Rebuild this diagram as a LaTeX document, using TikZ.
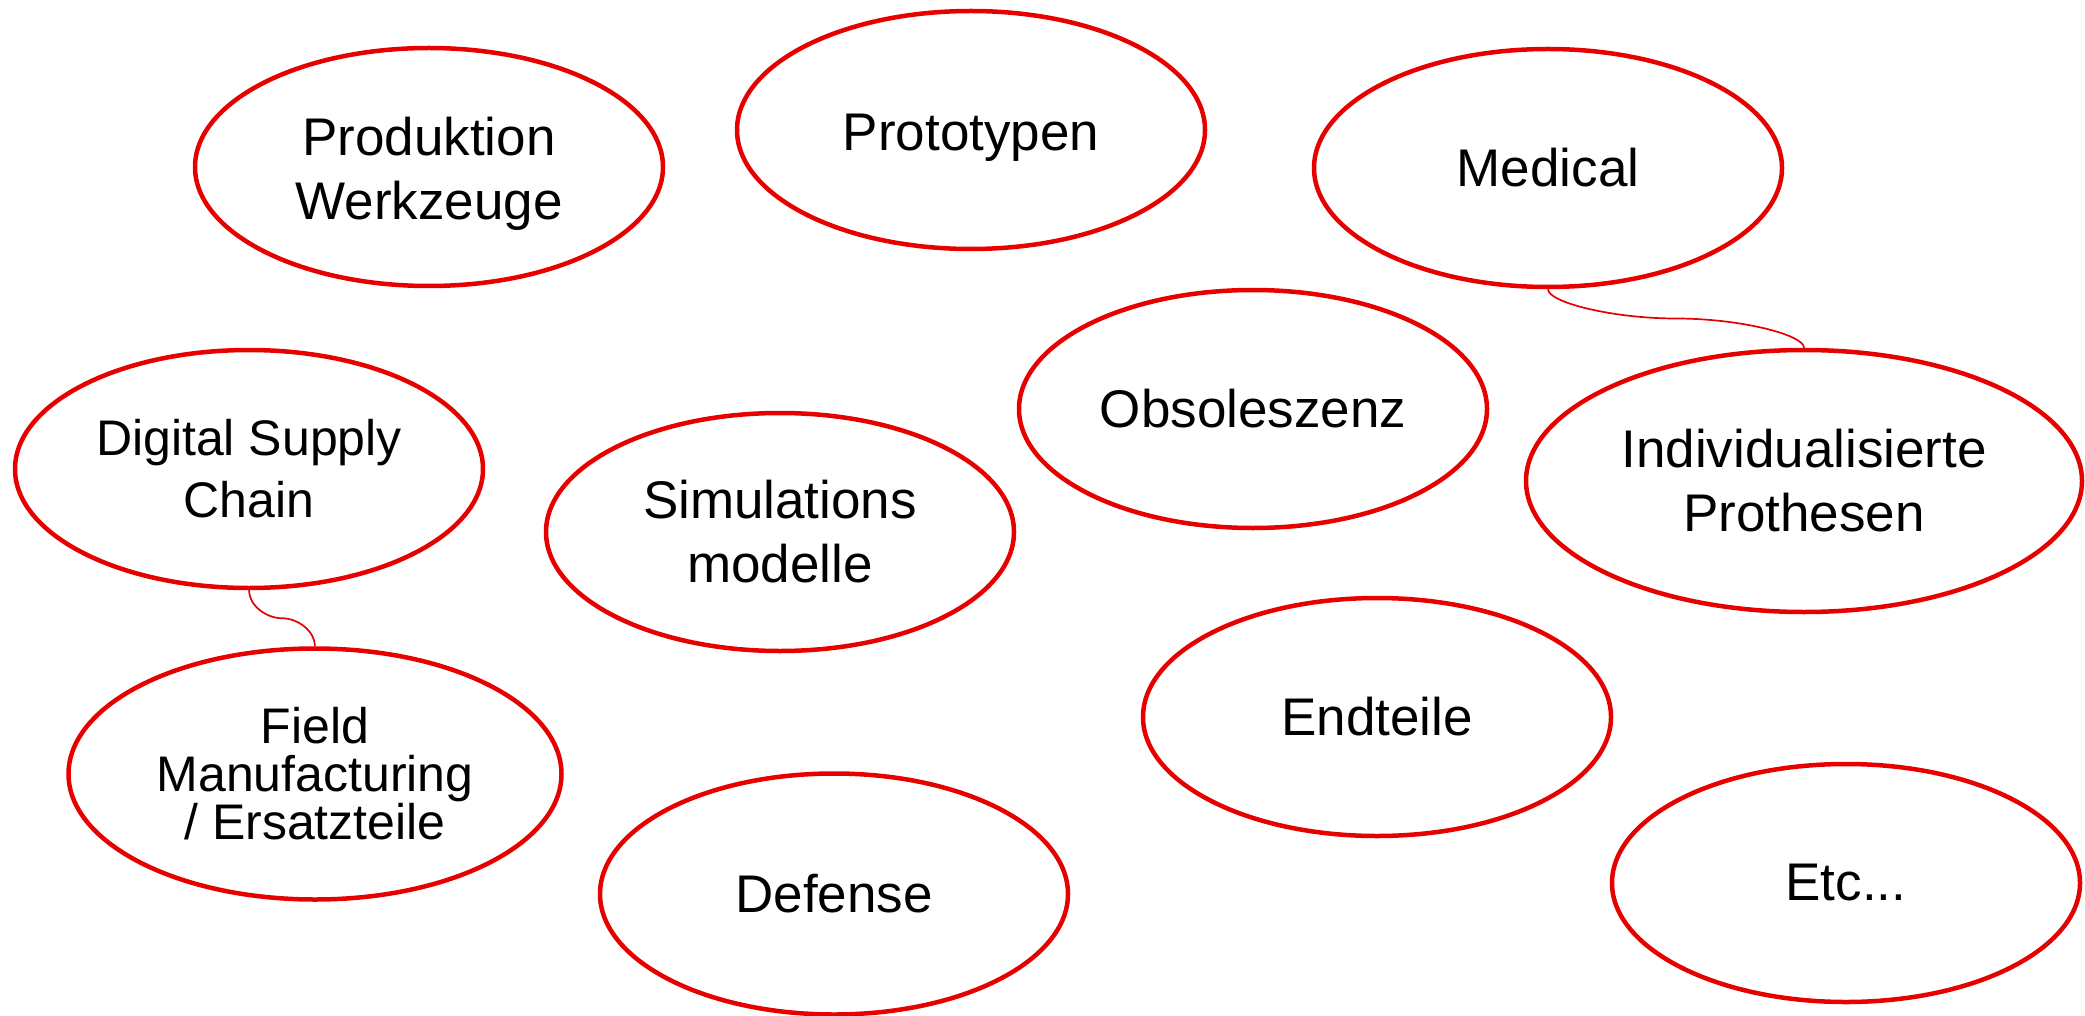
\documentclass[tikz,border=0pt]{standalone}
\usepackage{fontspec}
\setmainfont{Liberation Sans}
\usetikzlibrary{shapes.geometric,calc}
\definecolor{ovalred}{RGB}{230,0,0}

\begin{document}
\begin{tikzpicture}[x=1pt,y=1pt,
  oval/.style={ellipse,draw=ovalred,line width=4.5pt,inner sep=0pt,
    minimum width=468pt,minimum height=238pt,align=center,
    font=\fontsize{53}{64}\selectfont},
  link/.style={draw=ovalred,line width=1.7pt}]
\useasboundingbox (0,0) rectangle (2085,-1016);
% top row
\node[oval] (prod) at (429,-167) {\rule{0pt}{52pt}Produktion\\Werkzeuge};
\node[oval] (proto) at (971,-130) {\rule{0pt}{52pt}Prototypen};
\node[oval] (medical) at (1548,-168) {Medical};
% middle
\node[oval] (obsol) at (1253,-409) {Obsoleszenz};
\node[oval,minimum width=556pt,minimum height=262pt] (prothesen) at (1804,-481) {Individualisierte\\Prothesen};
\node[oval,font=\fontsize{50}{62}\selectfont] (dsc) at (249,-469) {Digital Supply\\Chain};
\node[oval] (simu) at (780,-532) {Simulations\\modelle};
% bottom
\node[oval,minimum width=493pt,minimum height=251pt,font=\fontsize{50}{48}\selectfont] (field) at (315,-774) {Field\\Manufacturing\\/ Ersatzteile};
\node[oval] (endteile) at (1377,-717) {Endteile};
\node[oval,minimum height=241pt] (defense) at (834,-894) {Defense};
\node[oval] (etc) at (1846,-883) {Etc...};
% connectors, bent at the middle point
\coordinate (m1) at ($(medical.south)!0.5!(prothesen.north)$);
\coordinate (m2) at ($(dsc.south)!0.5!(field.north)$);
\draw[link] (medical.south) .. controls +(0,-13) and +(-64,0) .. (m1)
  .. controls +(64,0) and +(0,13) .. (prothesen.north);
\draw[link] (dsc.south) .. controls +(0,-15) and +(-16,0) .. (m2)
  .. controls +(16,0) and +(0,15) .. (field.north);
\end{tikzpicture}
\end{document}
